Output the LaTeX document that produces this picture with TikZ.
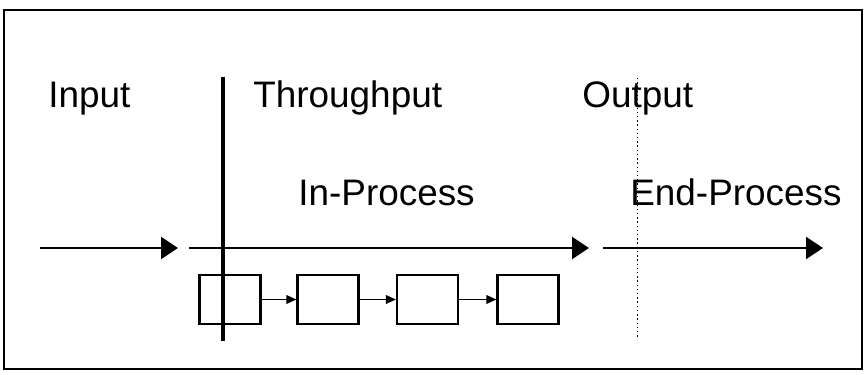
\documentclass[tikz,border=0pt]{standalone}
\usepackage{fontspec}
\setmainfont{Liberation Sans}
\usetikzlibrary{arrows.meta,positioning}

\tikzset{
  phase/.style={anchor=base west, inner sep=0pt, font=\fontsize{21}{25}\selectfont},
  stage/.style={draw, line width=1.2pt, minimum width=1.22cm, minimum height=0.98cm, inner sep=0pt},
  flow/.style={line width=1.2pt, -{Triangle[length=0.34cm,width=0.44cm]}},
  link/.style={line width=1pt, -{Triangle[length=0.2cm,width=0.17cm]}}
}

\begin{document}
\begin{tikzpicture}[x=0.02cm, y=-0.02cm]
    \useasboundingbox (0,0) rectangle (866,375);
    % Frame
    \draw[line width=0.8pt] (4,10) rectangle (862,369);

    % Phase labels
    \node[phase] (input) at (48,108) {Input};
    \node[phase] (through) at (253,108) {Throughput};
    \node[phase] (output) at (582,108) {Output};
    \node[phase] (inproc) at (298,205) {In-Process};
    \node[phase] (endproc) at (630,205) {End-Process};

    % Main flow
    \coordinate (a0) at (40,248);
    \coordinate (a1) at (178,248);
    \coordinate (b0) at (189,248);
    \coordinate (b1) at (589,248);
    \coordinate (c0) at (603,248);
    \coordinate (c1) at (823,248);
    \draw[flow] (a0) -- (a1);
    \draw[flow] (b0) -- (b1);
    \draw[flow] (c0) -- (c1);

    % Process steps
    \node[stage] (s1) at (230,299.5) {};
    \node[stage] (s2) at (328,299.5) {};
    \node[stage] (s3) at (427.5,299.5) {};
    \node[stage] (s4) at (528,299.5) {};
    \draw[link] (s1) -- (s2);
    \draw[link] (s2) -- (s3);
    \draw[link] (s3) -- (s4);

    % Boundaries
    \coordinate (v0) at (223,77);
    \coordinate (v1) at (223,341);
    \draw[line width=1.8pt] (v0) -- (v1);
    \coordinate (w0) at (637,78);
    \coordinate (w1) at (637,338);
    \draw[line width=0.5pt, dash pattern=on 0.8pt off 1.6pt] (w0) -- (w1);
\end{tikzpicture}
\end{document}
